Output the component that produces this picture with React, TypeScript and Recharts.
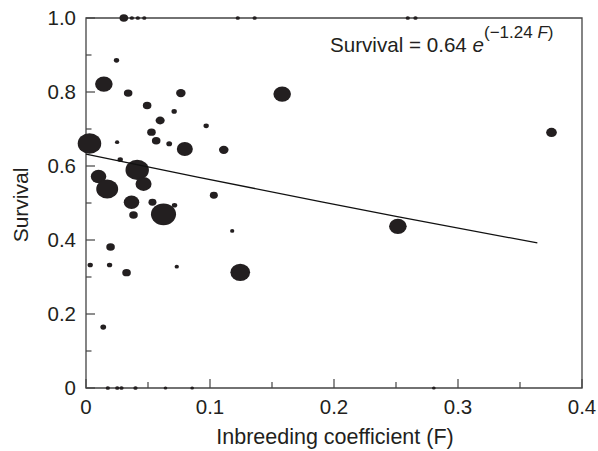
import React from "react"
import {
  ScatterChart,
  Scatter,
  XAxis,
  YAxis,
  ZAxis,
  ReferenceArea,
  Customized,
  Label,
} from "recharts"

// values
const inbreeding = [
  0.0305, 0.037, 0.0418, 0.047, 0.1224, 0.136, 0.2595, 0.2657,
  0.0176, 0.0252, 0.0286, 0.0399, 0.0641, 0.0856, 0.2805,
  0.0246, 0.0144, 0.034, 0.0765, 0.0493, 0.0711, 0.0598, 0.0528, 0.0566,
  0.0028, 0.0251, 0.0671, 0.0797, 0.0276, 0.0413, 0.0101, 0.0171, 0.0464,
  0.0367, 0.0536, 0.0714, 0.0625, 0.0383, 0.0198, 0.1111, 0.1031, 0.1179,
  0.0969, 0.1582, 0.0034, 0.019, 0.0327, 0.0732, 0.0139, 0.1244, 0.2515, 0.3754,
]
const survival = [
  1, 1, 1, 1, 1, 1, 1, 1,
  0, 0, 0, 0, 0, 0, 0,
  0.8855, 0.8214, 0.797, 0.797, 0.7637, 0.7475, 0.723, 0.6915, 0.668,
  0.661, 0.6644, 0.66, 0.646, 0.6176, 0.5894, 0.5716, 0.538, 0.5516,
  0.502, 0.502, 0.494, 0.4695, 0.4677, 0.381, 0.6436, 0.521, 0.4244,
  0.7085, 0.7943, 0.3323, 0.3323, 0.3118, 0.328, 0.1646, 0.3126, 0.437, 0.6907,
]
const groupSize = [
  64, 16, 16, 16, 16, 16, 16, 16,
  16, 16, 16, 16, 12, 12, 12,
  25, 270, 64, 80, 64, 25, 72, 64, 64,
  484, 16, 30, 225, 25, 480, 210, 420, 225,
  210, 56, 25, 550, 64, 64, 80, 56, 16,
  25, 270, 25, 25, 64, 16, 30, 340, 272, 100,
]

const fitF = [0, 0.09, 0.19, 0.25, 0.364]
const fitSurvival = [0.632, 0.57, 0.503, 0.464, 0.392]

const xTicks = [0, 0.05, 0.1, 0.15, 0.2, 0.25, 0.3, 0.35, 0.4]
const xLabels = ["0", "", "0.1", "", "0.2", "", "0.3", "", "0.4"]
const yTicks = [0, 0.1, 0.2, 0.3, 0.4, 0.5, 0.6, 0.7, 0.8, 0.9, 1]
const yLabels = ["0", "", "0.2", "", "0.4", "", "0.6", "", "0.8", "", "1.0"]

const points = inbreeding.map((f, i) => ({ f, s: survival[i], n: groupSize[i] }))
const fitLine = fitF.map((f, i) => ({ f, s: fitSurvival[i] }))

const ink = "#231f20"
const font = "'Liberation Sans', Arial, Helvetica, sans-serif"

const XTick = (props: any) => {
  const { x, y, payload, index } = props
  const label = xLabels[xTicks.indexOf(payload.value)] ?? xLabels[index]
  const major = label !== ""
  return (
    <g>
      <line x1={x} y1={y} x2={x} y2={y - (major ? 9 : 6)} stroke="#444" strokeWidth={1.2} />
      {major && (
        <text x={x} y={y + 11} dy="0.71em" textAnchor="middle" fontSize={20.5} fill={ink} fontFamily={font}>
          {label}
        </text>
      )}
    </g>
  )
}

const YTick = (props: any) => {
  const { x, y, payload, index } = props
  const label = yLabels[yTicks.indexOf(payload.value)] ?? yLabels[index]
  const major = label !== ""
  return (
    <g>
      <line x1={x} y1={y} x2={x + (major ? 9 : 5.5)} y2={y} stroke="#444" strokeWidth={1.2} />
      {major && (
        <text x={x - 10} y={y} dy="0.35em" textAnchor="end" fontSize={20.5} fill={ink} fontFamily={font}>
          {label}
        </text>
      )}
    </g>
  )
}

const Bubble = (props: any) => {
  const { cx, cy, width } = props
  const r = width / 2
  return <ellipse cx={cx} cy={cy} rx={r * 1.07} ry={r * 0.93} fill={ink} />
}

const NoDot = () => <g />

const Equation = () => (
  <text x={330} y={52} fontSize={20.6} fill={ink} fontFamily={font}>
    {"Survival = 0.64 "}
    <tspan fontStyle="italic">e</tspan>
    <tspan dy={-14} fontSize={17}>
      {"(\u22121.24 "}
      <tspan fontStyle="italic">F</tspan>
      {")"}
    </tspan>
  </text>
)

export default function App() {
  return (
    <div style={{ position: "absolute", left: 0, top: 0, background: "#fff" }}>
      <ScatterChart width={598} height={451} margin={{ top: 18, right: 16, bottom: 3, left: 16 }}>
        <XAxis
          type="number"
          dataKey="f"
          domain={[0, 0.4]}
          ticks={xTicks}
          interval={0}
          tick={<XTick />}
          tickLine={false}
          tickSize={0}
          tickMargin={0}
          axisLine={false}
          height={60}
        >
          <Label
            content={(p: any) => {
              const vb = p.viewBox
              return (
                <text x={vb.x + vb.width / 2 + 1} y={vb.y + 56} textAnchor="middle" fontSize={21.5} fill={ink} fontFamily={font}>
                  Inbreeding coefficient (F)
                </text>
              )
            }}
          />
        </XAxis>
        <YAxis
          type="number"
          dataKey="s"
          domain={[0, 1]}
          ticks={yTicks}
          interval={0}
          tick={<YTick />}
          tickLine={false}
          tickSize={0}
          tickMargin={0}
          axisLine={false}
          width={70}
        >
          <Label
            content={(p: any) => {
              const vb = p.viewBox
              const cx = vb.x + 4
              const cy = vb.y + vb.height / 2 + 2
              return (
                <text
                  x={cx}
                  y={cy}
                  transform={`rotate(-90 ${cx} ${cy})`}
                  textAnchor="middle"
                  dominantBaseline="central"
                  fontSize={21}
                  fill={ink}
                  fontFamily={font}
                >
                  Survival
                </text>
              )
            }}
          />
        </YAxis>
        <ZAxis type="number" dataKey="n" domain={[0, 600]} range={[0, 471]} />
        <ReferenceArea x1={0} x2={0.4} y1={0} y2={1} fill="none" stroke="#444" strokeWidth={1.3} fillOpacity={0} />
        <Scatter data={points} shape={<Bubble />} isAnimationActive={false} />
        <Scatter
          data={fitLine}
          line={{ stroke: "#111", strokeWidth: 1.3 }}
          shape={<NoDot />}
          isAnimationActive={false}
        />
        <Customized component={<Equation />} />
      </ScatterChart>
    </div>
  )
}
